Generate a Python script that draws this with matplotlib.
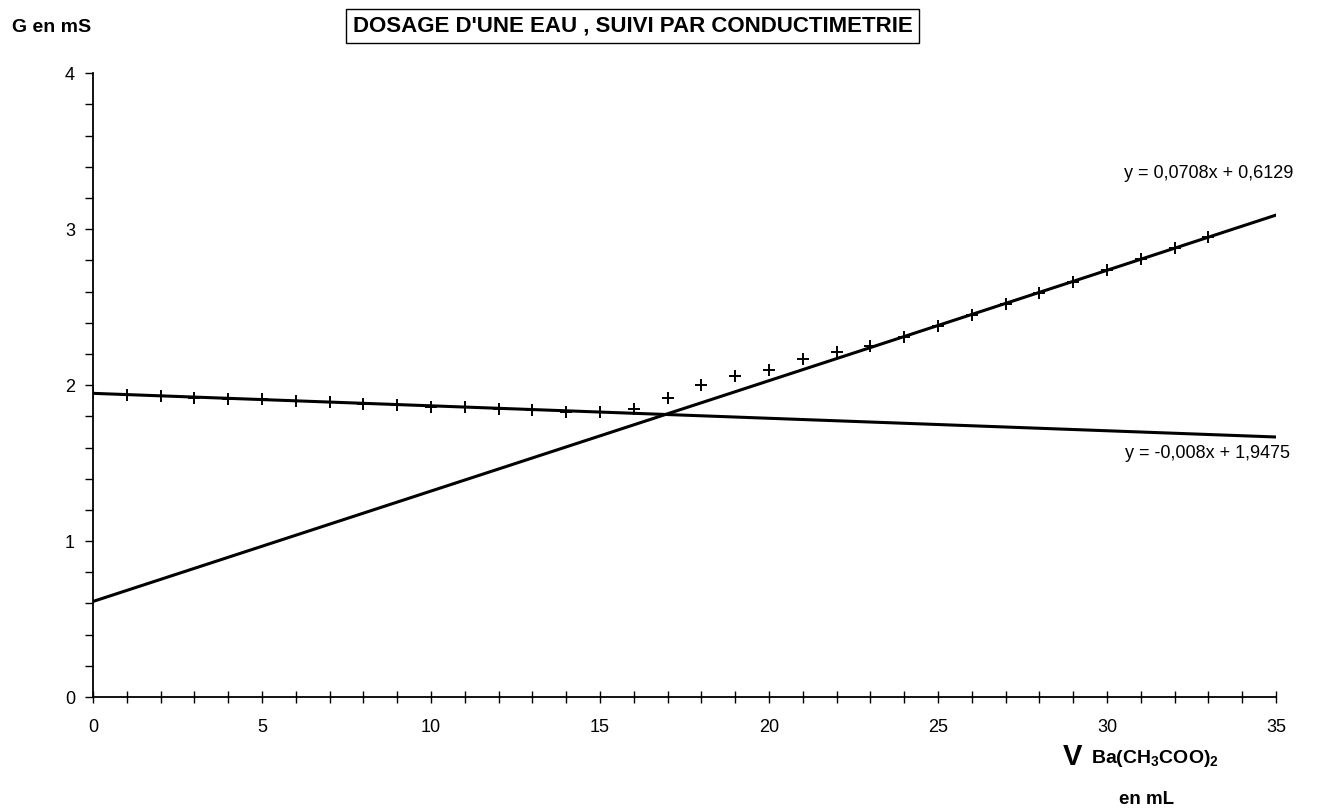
import numpy as np
import matplotlib
matplotlib.use("Agg")
import matplotlib.pyplot as plt
from matplotlib.ticker import MultipleLocator

# volume added (mL) and measured conductance (mS)
volume = [0, 1, 2, 3, 4, 5, 6, 7, 8, 9, 10, 11, 12, 13, 14, 15, 16,
          17, 18, 19, 20, 21, 22, 23, 24, 25, 26, 27, 28, 29, 30, 31, 32, 33]
conductance = [1.95, 1.94, 1.93, 1.92, 1.91, 1.91, 1.90, 1.89, 1.88, 1.87,
               1.86, 1.86, 1.85, 1.84, 1.83, 1.83, 1.85,
               1.92, 2.00, 2.06, 2.10, 2.17, 2.21, 2.25, 2.31, 2.38, 2.45,
               2.52, 2.59, 2.66, 2.74, 2.81, 2.88, 2.95]

# trend lines shown on the chart (slope, intercept)
fit_down = [-0.008, 1.9475]
fit_up = [0.0708, 0.6129]
label_down = "y = -0,008x + 1,9475"
label_up = "y = 0,0708x + 0,6129"

x_ticks = [0, 5, 10, 15, 20, 25, 30, 35]
y_ticks = [0, 1, 2, 3, 4]

plt.rcParams['font.family'] = ['Liberation Sans', 'DejaVu Sans']
plt.rcParams['mathtext.fontset'] = 'custom'
plt.rcParams['mathtext.rm'] = 'Liberation Sans'
plt.rcParams['mathtext.bf'] = 'Liberation Sans:bold'


def main():
    fig = plt.figure(figsize=(13.18, 8.10), dpi=100)
    ax = fig.add_axes([0.0706, 0.1395, 0.8976, 0.770])

    x_line = np.array([0, 35])
    ax.plot(x_line, np.polyval(fit_up, x_line), color='black', lw=2.2)
    ax.plot(x_line, np.polyval(fit_down, x_line), color='black', lw=2.2)
    ax.plot(volume, conductance, linestyle='none', marker='+', color='black',
            markersize=9, markeredgewidth=1.4)

    ax.set_xlim(0, 35)
    ax.set_ylim(0, 4)
    ax.set_xticks(x_ticks)
    ax.set_yticks(y_ticks)
    ax.xaxis.set_minor_locator(MultipleLocator(1))
    ax.yaxis.set_minor_locator(MultipleLocator(0.2))
    ax.tick_params(axis='x', which='both', direction='inout', length=9,
                   width=1.0, labelsize=13, pad=11)
    ax.tick_params(axis='y', which='both', direction='out', length=6,
                   width=1.0, labelsize=13, pad=7)
    for side in ['top', 'right']:
        ax.spines[side].set_visible(False)
    ax.spines['left'].set_linewidth(1.3)
    ax.spines['bottom'].set_linewidth(1.3)
    ax.patch.set_visible(False)

    # equations of the two lines
    ax.text(35.5, 3.36, label_up, fontsize=13, ha='right', va='center')
    ax.text(35.4, 1.56, label_down, fontsize=13, ha='right', va='center')

    fig.text(0.009, 0.966, "G en mS", fontsize=14, fontweight='bold',
             ha='left', va='center')
    fig.text(0.480, 0.968, "DOSAGE D'UNE EAU , SUIVI PAR CONDUCTIMETRIE",
             fontsize=16, fontweight='bold', ha='center', va='center',
             bbox=dict(boxstyle='square,pad=0.3', facecolor='white',
                       edgecolor='black', linewidth=1.0))

    # x axis label
    fig.text(0.806, 0.066, "V", fontsize=21, fontweight='bold',
             ha='left', va='center')
    fig.text(0.828, 0.063, r"$\mathbf{Ba(CH_3COO)_2}$", fontsize=14,
             ha='left', va='center')
    fig.text(0.870, 0.013, "en mL", fontsize=13.5, fontweight='bold',
             ha='center', va='center')

    fig.savefig("out.png", dpi=100, facecolor='white')


if __name__ == '__main__':
    main()
